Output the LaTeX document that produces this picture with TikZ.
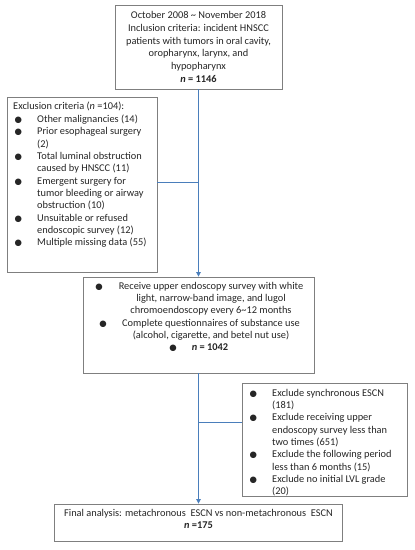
\documentclass[tikz,border=0pt]{standalone}
\usepackage{fontspec}
\setmainfont{Carlito}
\newfontfamily\dejavu{DejaVu Sans}
\usetikzlibrary{arrows.meta}
\definecolor{boxgray}{HTML}{7F7F7F}
\definecolor{lineblue}{HTML}{4A7EBB}
\definecolor{txt}{HTML}{262626}
\newcommand{\bulletdot}{{\dejavu\fontsize{8.5}{8.5}\selectfont ●}}
\newcommand{\txtsize}{\fontsize{10.4}{12.4}\selectfont}
\newcommand{\topsize}{\fontsize{10.4}{12.7}\selectfont}
\begin{document}
\begin{tikzpicture}[x=1bp,y=-1bp,
  box/.style={draw=boxgray, line width=0.8bp, inner sep=0pt, fill=white},
  conn/.style={draw=lineblue, line width=0.8bp},
  arr/.style={conn, -{Triangle[width=4.5bp,length=4.5bp]}},
  txtnode/.style={inner sep=0pt, text=txt, font=\txtsize}]
\useasboundingbox (0,0) rectangle (414,550);

% boxes
\node[box, minimum width=167bp, minimum height=84bp, align=center, text=txt, font=\topsize] (top) at (198.5,47)
  {October 2008 \textasciitilde{} November 2018\\Inclusion criteria: incident HNSCC\\patients with tumors in oral cavity,\\oropharynx, larynx, and\\hypopharynx\\\textbf{\textit{n} = 1146}};
\node[box, minimum width=150bp, minimum height=175bp] (excl) at (82,184.5) {};
\node[box, minimum width=231bp, minimum height=96bp] (mid) at (198.5,325) {};
\node[box, minimum width=165bp, minimum height=113bp] (excl2) at (324.5,439.5) {};
\node[box, minimum width=288bp, minimum height=37bp] (fin) at (198.5,522.5) {};

% connectors
\coordinate (j1) at (198.5,182);
\coordinate (j2) at (198.5,422);
\draw[arr] (top.south) -- (mid.north);
\draw[arr] (mid.south) -- (fin.north);
\draw[conn] (excl.east |- j1) -- (j1);
\draw[conn] (j2) -- (excl2.west |- j2);

% left box text
\node[txtnode, anchor=base west] (excltxt) at (13,110) {\begin{tabular}[t]{@{}p{24bp}@{}p{125bp}@{}}
\multicolumn{2}{@{}l@{}}{Exclusion criteria (\textit{n} =104):}\\
\hspace{1.5bp}\bulletdot & Other malignancies (14)\\
\hspace{1.5bp}\bulletdot & Prior esophageal surgery\newline (2)\\
\hspace{1.5bp}\bulletdot & Total luminal obstruction\newline caused by HNSCC (11)\\
\hspace{1.5bp}\bulletdot & Emergent surgery for\newline tumor bleeding or airway\newline obstruction (10)\\
\hspace{1.5bp}\bulletdot & Unsuitable or refused\newline endoscopic survey (12)\\
\hspace{1.5bp}\bulletdot & Multiple missing data (55)\\
\end{tabular}};

% middle box text
\node[txtnode, anchor=base] (b1) at (99,289) {\bulletdot};
\node[txtnode, anchor=base] (m1) at (211,289) {\begin{tabular}[t]{@{}c@{}}Receive upper endoscopy survey with white\\light, narrow-band image, and lugol\\chromoendoscopy every 6\textasciitilde12 months\end{tabular}};
\node[txtnode, anchor=base] (b2) at (103,326.5) {\bulletdot};
\node[txtnode, anchor=base] (m2) at (211,326.5) {\begin{tabular}[t]{@{}c@{}}Complete questionnaires of substance use\\(alcohol, cigarette, and betel nut use)\end{tabular}};
\node[txtnode, anchor=base] (b3) at (173,350.5) {\bulletdot};
\node[txtnode, anchor=base] (m3) at (210,350.5) {\textbf{\textit{n} = 1042}};

% right box text
\node[txtnode, anchor=base west] (excl2txt) at (249.5,396) {\begin{tabular}[t]{@{}p{22.5bp}@{}p{150bp}@{}}
\bulletdot & Exclude synchronous ESCN\newline (181)\\
\bulletdot & Exclude receiving upper\newline endoscopy survey less than\newline two times (651)\\
\bulletdot & Exclude the following period\newline less than 6 months (15)\\
\bulletdot & Exclude no initial LVL grade\newline (20)\\
\end{tabular}};

% final box text
\node[txtnode, anchor=base] (fintxt) at (198.5,516) {\begin{tabular}[t]{@{}c@{}}Final analysis: metachronous\ \ ESCN vs non-metachronous\ \ ESCN\\\textbf{\textit{n} =175}\end{tabular}};
\end{tikzpicture}
\end{document}
